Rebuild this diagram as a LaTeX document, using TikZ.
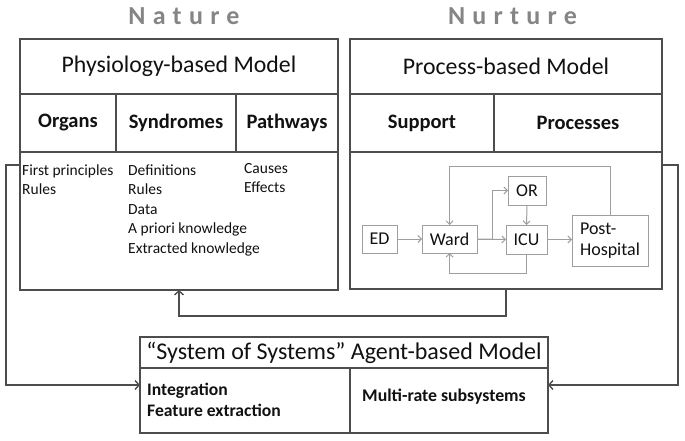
\documentclass[tikz,border=0pt]{standalone}
\usepackage{fontspec}
\setmainfont{Carlito}
\usetikzlibrary{arrows.meta}
\definecolor{mainline}{HTML}{4D4D4D}
\definecolor{procline}{HTML}{9E9E9E}
\definecolor{headgray}{HTML}{858585}
\definecolor{txt}{HTML}{111111}
\tikzset{
  cell/.style={draw=mainline, line width=1.6pt, inner sep=0pt, outer sep=0pt, anchor=north west, text=txt},
  titlefont/.style={font=\fontsize{23.8}{28}\selectfont},
  headfont/.style={font=\bfseries\fontsize{20.5}{24}\selectfont},
  bodytext/.style={anchor=base west, align=left, inner sep=0pt, text=txt, font=\fontsize{15.5}{19.5}\selectfont},
  bigword/.style={text=headgray, font=\bfseries\fontsize{26}{30}\selectfont\addfontfeature{LetterSpace=28}},
  pbox/.style={draw=procline, line width=1pt, inner sep=0pt, outer sep=0pt, text=txt, font=\fontsize{18}{21}\selectfont},
  parr/.style={draw=procline, line width=1pt, -{Straight Barb[length=3.5pt,width=7pt]}},
  marr/.style={draw=mainline, line width=1.6pt, -{Straight Barb[length=4pt,width=9pt,line width=1.4pt]}},
  mline/.style={draw=mainline, line width=1.6pt}
}
\begin{document}
\begin{tikzpicture}[x=1pt,y=-1pt]
\useasboundingbox (0,0) rectangle (685,441);
% headings
\node[bigword] (nature) at (184,16) {Nature};
\node[bigword] (nurture) at (512.5,16) {Nurture};
% left box
\node[cell, titlefont, minimum width=318pt, minimum height=55pt] (ltitle) at (20,39) {Physiology-based Model};
\node[cell, headfont, minimum width=96pt, minimum height=58pt] (organs) at (20,94) {Organs};
\node[cell, headfont, minimum width=120pt, minimum height=58pt] (synd) at (116,94) {Syndromes};
\node[cell, headfont, minimum width=102pt, minimum height=58pt] (path) at (236,94) {Pathways};
\node[cell, minimum width=318pt, minimum height=138pt] (lbody) at (20,152) {};
% (base anchor of a multi-line node = last line)
\node[bodytext] (t1) at (22,194.5) {First principles\\Rules};
\node[bodytext] (t2) at (128,253) {Definitions\\Rules\\Data\\A priori knowledge\\Extracted knowledge};
\node[bodytext] (t3) at (244,192.5) {Causes\\Effects};
% right box
\node[cell, titlefont, minimum width=312pt, minimum height=55pt] (rtitle) at (350,39) {Process-based Model};
\node[cell, headfont, minimum width=144pt, minimum height=58pt] (support) at (350,94) {Support};
\node[cell, headfont, minimum width=168pt, minimum height=58pt] (proc) at (494,94) {Processes};
\node[cell, minimum width=312pt, minimum height=137pt] (rbody) at (350,152) {};
% process diagram
\node[pbox, minimum width=35pt, minimum height=28pt] (ED) at (379.5,239) {ED};
\node[pbox, minimum width=55pt, minimum height=28pt] (Ward) at (449.5,239) {Ward};
\node[pbox, minimum width=38pt, minimum height=29pt] (OR) at (527,190.5) {OR};
\node[pbox, minimum width=41pt, minimum height=29pt] (ICU) at (526.5,239.5) {ICU};
\node[pbox, minimum width=76pt, minimum height=51pt, align=left] (Post) at (610,240.5) {Post-\\[-0.5pt]Hospital};
\draw[parr] (ED.east) -- (Ward.west);
\draw[parr] (Ward.east) -- (ICU.west);
\draw[parr] (Ward.east) -- ++(15,0) |- (OR.west);
\draw[parr] (OR.south) -- (ICU.north);
\draw[parr] (ICU.east) -- (ICU.east -| Post.west);
\draw[parr] (Post.north) -- ++(0,-49) -| (Ward.north);
\draw[parr] (ICU.south) -- ++(0,19) -| (Ward.south);
% bottom box
\node[cell, font=\fontsize{24}{28}\selectfont, minimum width=408pt, minimum height=31pt] (stitle) at (140,337) {“System of Systems” Agent-based Model};
\node[cell, minimum width=210pt, minimum height=65pt] (sleft) at (140,368) {};
\node[cell, minimum width=198pt, minimum height=65pt] (sright) at (350,368) {};
\node[bodytext, font=\bfseries\fontsize{17.6}{21}\selectfont] (integ) at (147,416) {Integration\\Feature extraction};
\node[text=txt, font=\bfseries\fontsize{17.8}{21}\selectfont, inner sep=0pt] (multi) at (444,397) {Multi-rate subsystems};
% main connectors
\draw[marr] ([yshift=-13pt]lbody.north west) -- ++(-14,0) |- ([yshift=15.5pt]sleft.west);
\draw[marr] ([yshift=-13pt]rbody.north east) -- ++(16,0) |- ([yshift=15.5pt]sright.east);
\draw[marr] (rbody.south west) ++(156,0) coordinate (mstart) -- ++(0,27) -| ([xshift=159pt]lbody.south west);
\end{tikzpicture}
\end{document}
